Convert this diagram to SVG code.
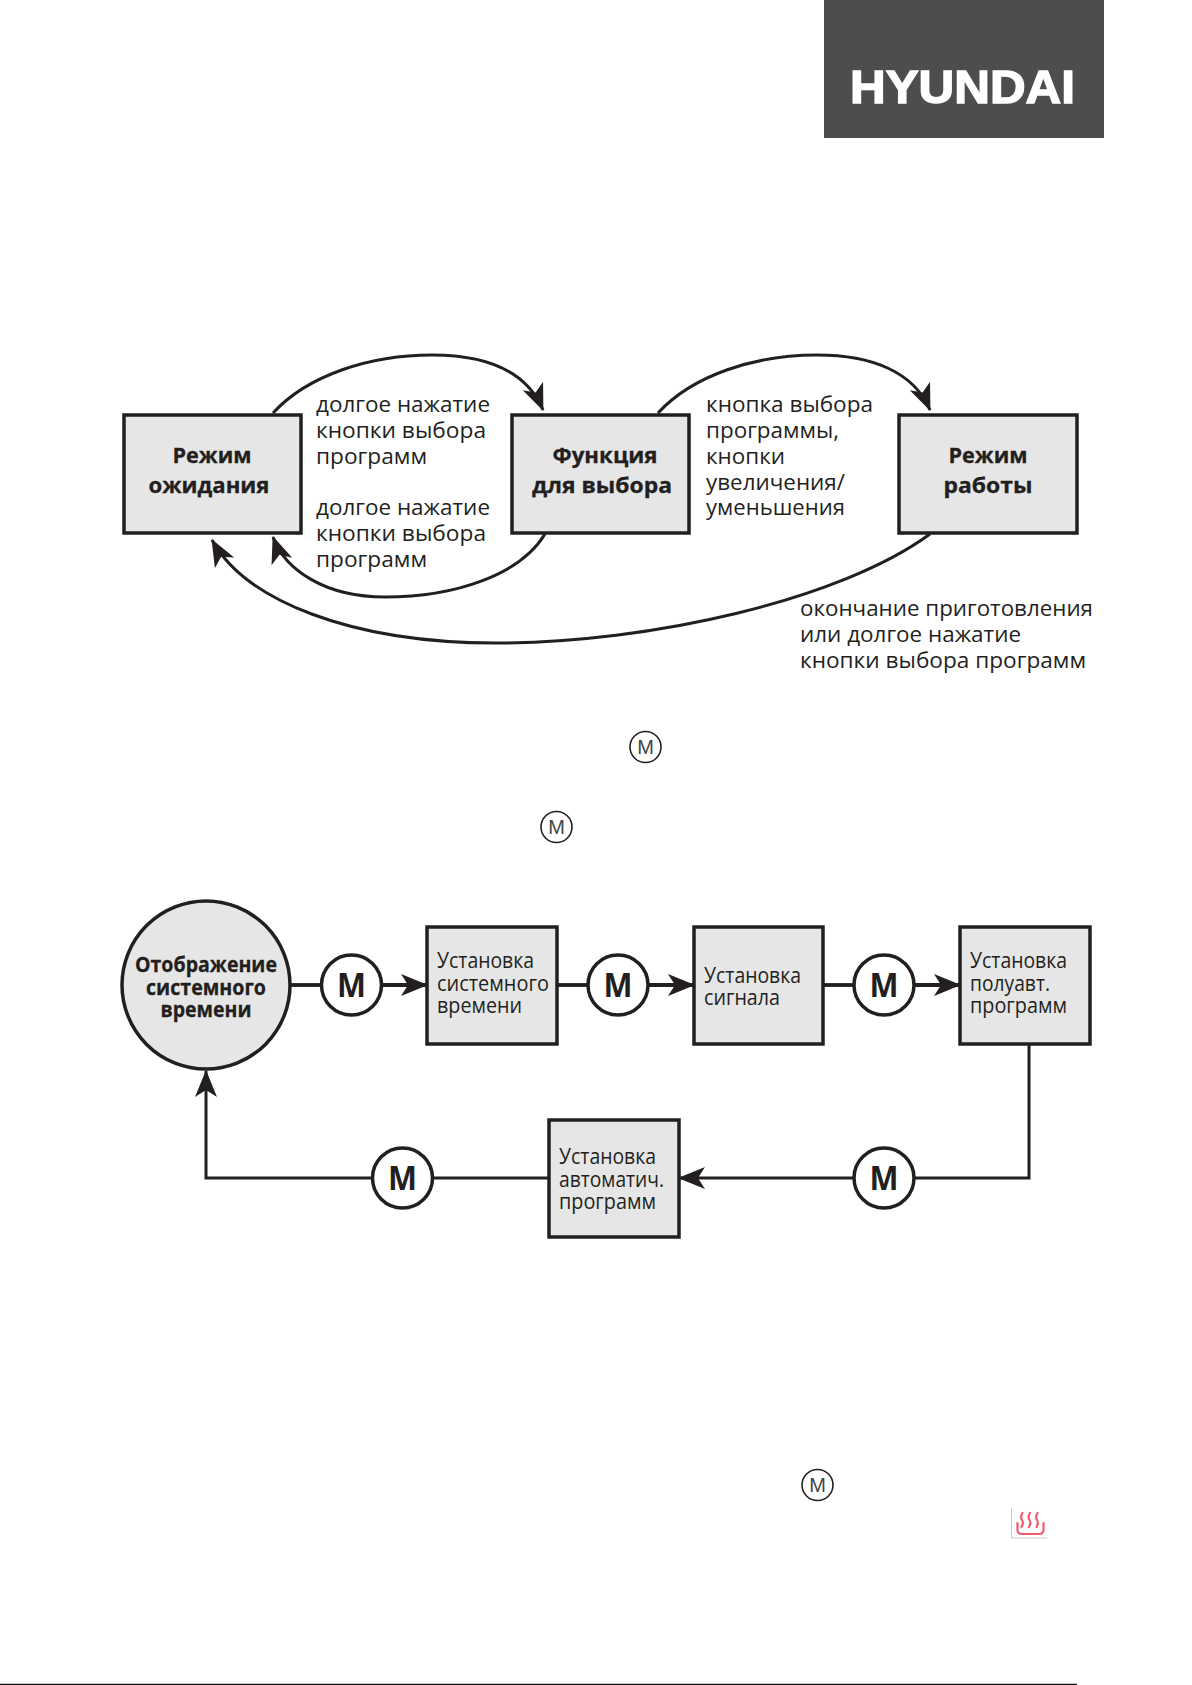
<svg xmlns="http://www.w3.org/2000/svg" width="1192" height="1685" viewBox="0 0 1192 1685">
<style>
text{font-family:"Open Sans","Noto Sans","Liberation Sans",sans-serif;fill:#231f20;font-size:22px}
.b{font-weight:700;stroke:#231f20;stroke-width:.3}
.box{fill:#e6e6e6;stroke:#231f20;stroke-width:3.5}
.mc{fill:#fff;stroke:#231f20;stroke-width:3.5}
.mt{font-weight:700;font-size:34px}
.sc{fill:#fff;stroke:#231f20;stroke-width:1.6}
.st{font-family:"Liberation Sans",Arial,sans-serif;font-size:20px;fill:#444}
.w{fill:none;stroke:#231f20;stroke-width:3}
.s{fill:none;stroke:#231f20;stroke-width:3.8}
.h{fill:none;stroke:#f4596e;stroke-width:2.2;stroke-linecap:round}
</style>
<defs>
<marker id="a" markerUnits="userSpaceOnUse" markerWidth="28" markerHeight="24" refX="26" refY="12" orient="auto" viewBox="0 0 28 24"><path d="M0 1 L27 12 L0 23 L7 12Z" fill="#231f20"/></marker>
</defs>
<rect width="1192" height="1685" fill="#fff"/>
<g id="logo"><rect x="824" y="0" width="280" height="138" fill="#4d4d4f"/><text x="850" y="102.500" textLength="225" lengthAdjust="spacingAndGlyphs" style="font-family:'Liberation Sans',Arial,sans-serif;font-weight:700;font-size:47px;fill:#fff;stroke:#fff;stroke-width:1.400">HYUNDAI</text></g>

<g id="connectors">
<path class="w" marker-end="url(#a)" d="M273 413C308 375 370 355 432 355C487 355 527 372 543 410"/>
<path class="w" marker-end="url(#a)" d="M658 413C693 375 755 355 817 355C872 355 914 372 930 410"/>
<path class="w" marker-end="url(#a)" d="M545 534C520 575 455 597 385 597C325 597 285 570 273 537"/>
<path class="w" marker-end="url(#a)" d="M930 534C840 600 650 643 496 643C350 643 245 600 212 540"/>
<path class="s" d="M289 985H320"/><path class="s" marker-end="url(#a)" d="M381 985H427"/>
<path class="s" d="M557 985H588"/><path class="s" marker-end="url(#a)" d="M648 985H694"/>
<path class="s" d="M823 985H854"/><path class="s" marker-end="url(#a)" d="M914 985H960"/>
<path class="w" marker-end="url(#a)" d="M1029 1043V1178H679"/>
<path class="w" marker-end="url(#a)" d="M549 1178H206V1071"/>
</g>

<g id="node-standby"><rect class="box" x="124" y="415" width="177" height="118"/><text class="b" x="212" y="463" text-anchor="middle" textLength="79" lengthAdjust="spacingAndGlyphs">Режим</text><text class="b" x="209" y="493" text-anchor="middle" textLength="121" lengthAdjust="spacingAndGlyphs">ожидания</text></g>
<g id="node-select"><rect class="box" x="512" y="415" width="177" height="118"/><text class="b" x="605" y="463" text-anchor="middle" textLength="105" lengthAdjust="spacingAndGlyphs">Функция</text><text class="b" x="602" y="493" text-anchor="middle" textLength="140" lengthAdjust="spacingAndGlyphs">для выбора</text></g>
<g id="node-work"><rect class="box" x="899" y="415" width="178" height="118"/><text class="b" x="988" y="463" text-anchor="middle" textLength="79" lengthAdjust="spacingAndGlyphs">Режим</text><text class="b" x="988" y="493" text-anchor="middle" textLength="89" lengthAdjust="spacingAndGlyphs">работы</text></g>

<g id="labels">
<text x="316" y="412" textLength="174" lengthAdjust="spacingAndGlyphs">долгое нажатие</text>
<text x="316" y="438" textLength="170" lengthAdjust="spacingAndGlyphs">кнопки выбора</text>
<text x="316" y="464" textLength="111" lengthAdjust="spacingAndGlyphs">программ</text>
<text x="316" y="515" textLength="174" lengthAdjust="spacingAndGlyphs">долгое нажатие</text>
<text x="316" y="541" textLength="170" lengthAdjust="spacingAndGlyphs">кнопки выбора</text>
<text x="316" y="567" textLength="111" lengthAdjust="spacingAndGlyphs">программ</text>
<text x="706" y="412" textLength="167" lengthAdjust="spacingAndGlyphs">кнопка выбора</text>
<text x="706" y="438" textLength="133" lengthAdjust="spacingAndGlyphs">программы,</text>
<text x="706" y="464" textLength="79" lengthAdjust="spacingAndGlyphs">кнопки</text>
<text x="706" y="490" textLength="139" lengthAdjust="spacingAndGlyphs">увеличения/</text>
<text x="706" y="515" textLength="139" lengthAdjust="spacingAndGlyphs">уменьшения</text>
<text x="800" y="616" textLength="293" lengthAdjust="spacingAndGlyphs">окончание приготовления</text>
<text x="800" y="642" textLength="221" lengthAdjust="spacingAndGlyphs">или долгое нажатие</text>
<text x="800" y="668" textLength="286" lengthAdjust="spacingAndGlyphs">кнопки выбора программ</text>
</g>

<g id="key-1"><circle class="sc" cx="645.500" cy="747" r="15.500"/><text class="st" x="645.500" y="754" text-anchor="middle">M</text></g>
<g id="key-2"><circle class="sc" cx="556.500" cy="827" r="15.500"/><text class="st" x="556.500" y="834" text-anchor="middle">M</text></g>
<g id="key-3"><circle class="sc" cx="817.500" cy="1485" r="15.500"/><text class="st" x="817.500" y="1492" text-anchor="middle">M</text></g>

<g id="node-time"><circle class="box" cx="206" cy="985" r="84"/><text class="b" x="206" y="972" text-anchor="middle" textLength="142" lengthAdjust="spacingAndGlyphs">Отображение</text><text class="b" x="206" y="995" text-anchor="middle" textLength="120" lengthAdjust="spacingAndGlyphs">системного</text><text class="b" x="206" y="1017" text-anchor="middle" textLength="91" lengthAdjust="spacingAndGlyphs">времени</text></g>
<g id="m1"><circle class="mc" cx="351.500" cy="985" r="30"/><text class="mt" x="351.500" y="997" text-anchor="middle" textLength="29" lengthAdjust="spacingAndGlyphs">M</text></g>
<g id="node-clock"><rect class="box" x="427" y="927" width="130" height="117"/><text x="437" y="968" textLength="97" lengthAdjust="spacingAndGlyphs">Установка</text><text x="437" y="991" textLength="112" lengthAdjust="spacingAndGlyphs">системного</text><text x="437" y="1013" textLength="85" lengthAdjust="spacingAndGlyphs">времени</text></g>
<g id="m2"><circle class="mc" cx="618" cy="985" r="30"/><text class="mt" x="618" y="997" text-anchor="middle" textLength="29" lengthAdjust="spacingAndGlyphs">M</text></g>
<g id="node-alarm"><rect class="box" x="694" y="927" width="129" height="117"/><text x="704" y="983" textLength="97" lengthAdjust="spacingAndGlyphs">Установка</text><text x="704" y="1005" textLength="76" lengthAdjust="spacingAndGlyphs">сигнала</text></g>
<g id="m3"><circle class="mc" cx="884" cy="985" r="30"/><text class="mt" x="884" y="997" text-anchor="middle" textLength="29" lengthAdjust="spacingAndGlyphs">M</text></g>
<g id="node-semi"><rect class="box" x="960" y="927" width="130" height="117"/><text x="970" y="968" textLength="97" lengthAdjust="spacingAndGlyphs">Установка</text><text x="970" y="991" textLength="80" lengthAdjust="spacingAndGlyphs">полуавт.</text><text x="970" y="1013" textLength="97" lengthAdjust="spacingAndGlyphs">программ</text></g>
<g id="m4"><circle class="mc" cx="884" cy="1178" r="30"/><text class="mt" x="884" y="1190" text-anchor="middle" textLength="29" lengthAdjust="spacingAndGlyphs">M</text></g>
<g id="node-auto"><rect class="box" x="549" y="1120" width="130" height="117"/><text x="559" y="1164" textLength="97" lengthAdjust="spacingAndGlyphs">Установка</text><text x="559" y="1187" textLength="105" lengthAdjust="spacingAndGlyphs">автоматич.</text><text x="559" y="1209" textLength="97" lengthAdjust="spacingAndGlyphs">программ</text></g>
<g id="m5"><circle class="mc" cx="402.500" cy="1178" r="30"/><text class="mt" x="402.500" y="1190" text-anchor="middle" textLength="29" lengthAdjust="spacingAndGlyphs">M</text></g>

<g id="heat-icon">
<path d="M1011.500 1508V1538H1047" fill="none" stroke="#c9c9c9" stroke-width="1"/>
<path class="h" d="M1017.500 1523V1530Q1017.500 1534 1022 1534H1039Q1043.500 1534 1043.500 1530V1523"/>
<path class="h" d="M1022.500 1513Q1020 1517 1022 1520Q1024 1523 1021.500 1527"/>
<path class="h" d="M1030 1513Q1027.500 1517 1029.500 1520Q1031.500 1523 1029 1527"/>
<path class="h" d="M1037.500 1513Q1035 1517 1037 1520Q1039 1523 1036.500 1527"/>
</g>
<path id="footer-rule" d="M0 1684.500H1077" stroke="#111" stroke-width="1.500" fill="none"/>
</svg>
